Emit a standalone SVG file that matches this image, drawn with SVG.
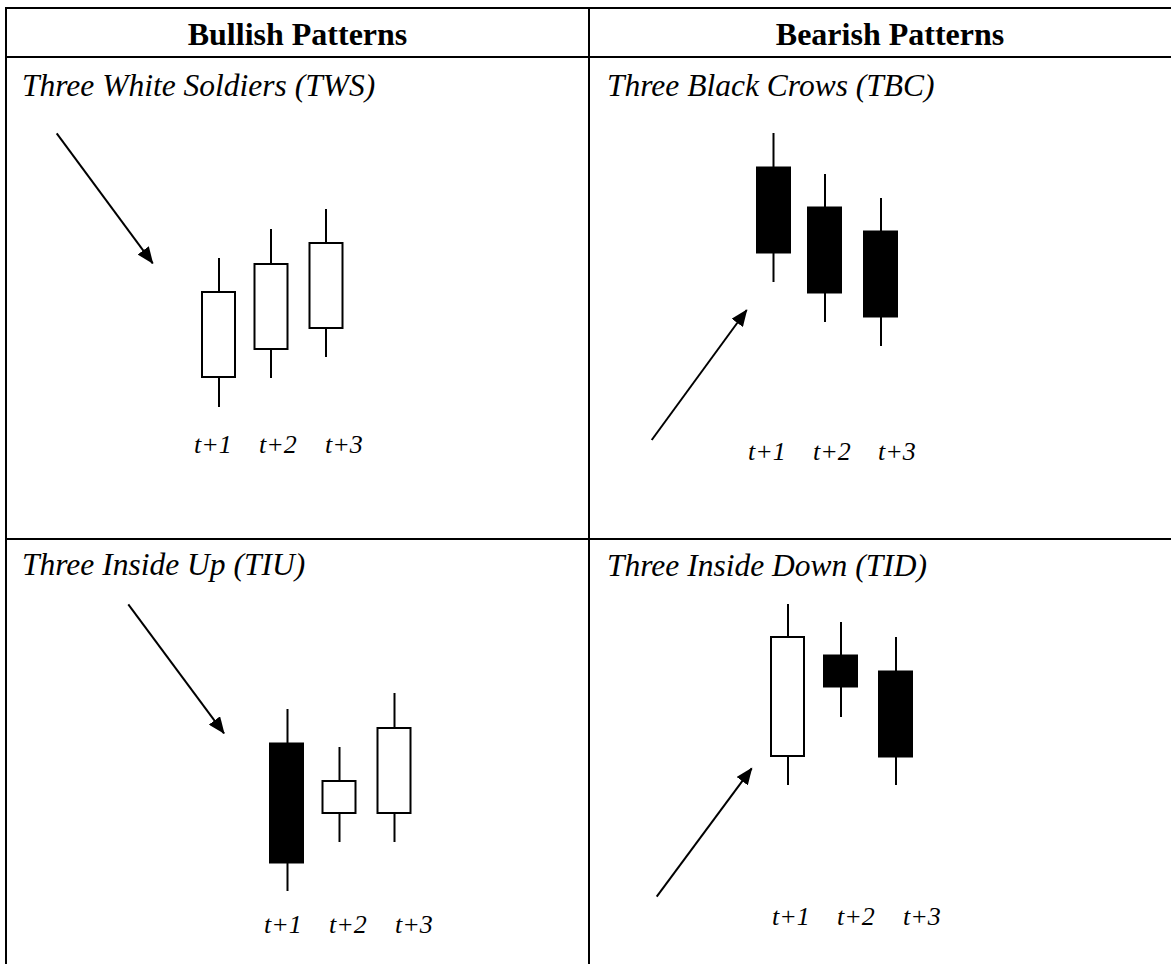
<svg xmlns="http://www.w3.org/2000/svg" width="1171" height="964" viewBox="0 0 1171 964">
<defs>
<style>
.grid{stroke:#000;stroke-width:2;fill:none}
.hdr{font-family:"Liberation Serif","Times New Roman",serif;font-weight:bold;font-size:32px;fill:#000;text-anchor:middle}
.ttl{font-family:"Liberation Serif","Times New Roman",serif;font-style:italic;font-size:31.5px;fill:#000}
.lbl{font-family:"Liberation Serif","Times New Roman",serif;font-style:italic;font-size:26px;fill:#000}
.wick{stroke:#000;stroke-width:2}
.up{fill:#fff;stroke:#000;stroke-width:2}
.dn{fill:#000;stroke:#000;stroke-width:1}
.arr{stroke:#000;stroke-width:2;fill:none;marker-end:url(#ah)}
</style>
<marker id="ah" markerUnits="userSpaceOnUse" markerWidth="18" markerHeight="14" refX="16" refY="7" orient="auto">
<path d="M0,0 L17,7 L0,14 z" fill="#000"/>
</marker>
</defs>
<rect width="1171" height="964" fill="#fff"/>
<g id="table">
<line class="grid" x1="5" y1="8" x2="1171" y2="8"/>
<line class="grid" x1="6" y1="57" x2="1171" y2="57"/>
<line class="grid" x1="6" y1="539" x2="1171" y2="539"/>
<line class="grid" x1="6" y1="7" x2="6" y2="964"/>
<line class="grid" x1="589" y1="7" x2="589" y2="964"/>
<text class="hdr" x="297.5" y="45">Bullish Patterns</text>
<text class="hdr" x="890" y="45">Bearish Patterns</text>
</g>
<g id="connectors">
<line class="arr" x1="56.7" y1="133.3" x2="152.7" y2="263.3"/>
<line class="arr" x1="651.7" y1="440" x2="746.7" y2="310"/>
<line class="arr" x1="128.3" y1="604.3" x2="224" y2="733.3"/>
<line class="arr" x1="656.7" y1="896.7" x2="751.7" y2="768.3"/>
</g>
<g id="tws">
<text class="ttl" x="22" y="96">Three White Soldiers (TWS)</text>
<line class="wick" x1="219" y1="258" x2="219" y2="407"/>
<rect class="up" x="202" y="292" width="33" height="85"/>
<line class="wick" x1="271" y1="229" x2="271" y2="378"/>
<rect class="up" x="254.5" y="264" width="33" height="85"/>
<line class="wick" x1="326" y1="209" x2="326" y2="357"/>
<rect class="up" x="309.5" y="243" width="33" height="85"/>
<text class="lbl" x="194" y="453">t+1</text>
<text class="lbl" x="259" y="453">t+2</text>
<text class="lbl" x="325" y="453">t+3</text>
</g>
<g id="tbc">
<text class="ttl" x="607" y="96">Three Black Crows (TBC)</text>
<line class="wick" x1="773.5" y1="133" x2="773.5" y2="282"/>
<rect class="dn" x="756.5" y="167" width="34" height="86"/>
<line class="wick" x1="825" y1="174" x2="825" y2="322"/>
<rect class="dn" x="807.5" y="207" width="34" height="86"/>
<line class="wick" x1="881" y1="198" x2="881" y2="346"/>
<rect class="dn" x="863.5" y="231" width="34" height="86"/>
<text class="lbl" x="748" y="460">t+1</text>
<text class="lbl" x="813" y="460">t+2</text>
<text class="lbl" x="878" y="460">t+3</text>
</g>
<g id="tiu">
<text class="ttl" x="22" y="575">Three Inside Up (TIU)</text>
<line class="wick" x1="287.5" y1="709" x2="287.5" y2="891"/>
<rect class="dn" x="269.5" y="743" width="34" height="120"/>
<line class="wick" x1="339.5" y1="747" x2="339.5" y2="842"/>
<rect class="up" x="322.5" y="781" width="33" height="32"/>
<line class="wick" x1="394.5" y1="693" x2="394.5" y2="842"/>
<rect class="up" x="377.5" y="728" width="33" height="85"/>
<text class="lbl" x="264" y="933">t+1</text>
<text class="lbl" x="329" y="933">t+2</text>
<text class="lbl" x="395" y="933">t+3</text>
</g>
<g id="tid">
<text class="ttl" x="607" y="576">Three Inside Down (TID)</text>
<line class="wick" x1="788" y1="604" x2="788" y2="785"/>
<rect class="up" x="771" y="637" width="33" height="119"/>
<line class="wick" x1="841" y1="622" x2="841" y2="717"/>
<rect class="dn" x="823.5" y="655" width="34" height="32"/>
<line class="wick" x1="896" y1="637" x2="896" y2="785"/>
<rect class="dn" x="878.5" y="671" width="34" height="86"/>
<text class="lbl" x="772" y="925">t+1</text>
<text class="lbl" x="837" y="925">t+2</text>
<text class="lbl" x="903" y="925">t+3</text>
</g>
</svg>
